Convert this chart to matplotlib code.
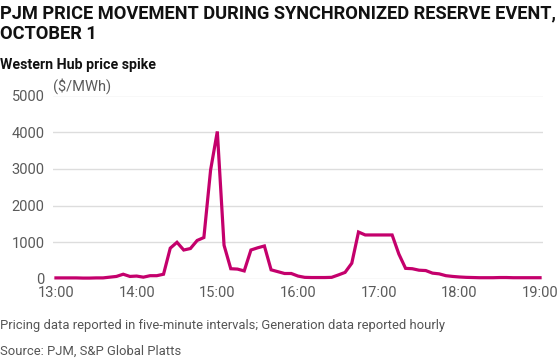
import matplotlib
matplotlib.use("Agg")
import matplotlib.pyplot as plt

title = "PJM PRICE MOVEMENT DURING SYNCHRONIZED RESERVE EVENT,\nOCTOBER 1"
subtitle = "Western Hub price spike"
unit = "($/MWh)"
note1 = "Pricing data reported in five-minute intervals; Generation data reported hourly"
note2 = "Source: PJM, S&P Global Platts"

# minutes after 13:00, 5-minute intervals
minutes = list(range(0, 361, 5))
price = [30, 30, 30, 30, 25, 25, 30, 30, 50, 70, 130, 70,
         80, 50, 90, 90, 130, 840, 1000, 790, 830, 1050, 1130, 2970,
         4020, 920, 280, 270, 220, 790, 850, 900, 250, 200, 150, 150,
         80, 45, 40, 40, 40, 45, 110, 180, 430, 1280, 1200, 1200,
         1200, 1200, 1200, 680, 290, 280, 240, 230, 160, 140, 90, 70,
         55, 45, 40, 35, 35, 35, 40, 40, 35, 35, 35, 35,
         35]
xtick_pos = [0, 60, 120, 180, 240, 300, 360]
xtick_labels = ["13:00", "14:00", "15:00", "16:00", "17:00", "18:00", "19:00"]
ytick_vals = [0, 1000, 2000, 3000, 4000, 5000]

plt.rcParams['font.family'] = ['Roboto', 'DejaVu Sans']

W, H = 560, 362
fig = plt.figure(figsize=(W / 100, H / 100), dpi=100)
left, right, top, bottom = 53, 543, 95.5, 279
ax = fig.add_axes([left / W, 1 - bottom / H, (right - left) / W, (bottom - top) / H])

ax.plot(minutes, price, color='#c4006c', lw=2.3, clip_on=False, solid_joinstyle='miter', zorder=3)
ax.set_xlim(-2.2, 362.2)
ax.set_ylim(0, 5000)
ax.set_yticks(ytick_vals)
ax.set_yticklabels([str(v) for v in ytick_vals])
ax.set_xticks(xtick_pos)
ax.set_xticklabels(xtick_labels)
ax.grid(axis='y', color='#dddddd', lw=1)
ax.set_axisbelow(True)
for s in ax.spines.values():
    s.set_visible(False)
ax.tick_params(axis='both', length=0, labelsize=10.5, colors='#5a5a5a')
ax.tick_params(axis='y', pad=6)
ax.tick_params(axis='x', pad=5)

fig.text(0, 1 - 4 / H, title, fontsize=13.15, fontweight='bold', color='#111111',
         va='top', ha='left', linespacing=1.2)
fig.text(0, 1 - 65 / H, subtitle, fontsize=10.2, fontweight='bold', color='#111111',
         va='center', ha='left')
fig.text(53 / W, 1 - 86 / H, unit, fontsize=10.5, color='#5a5a5a', va='center', ha='left')
fig.text(0, 1 - 326 / H, note1, fontsize=9.4, color='#555555', va='center', ha='left')
fig.text(0, 1 - 351 / H, note2, fontsize=9.4, color='#555555', va='center', ha='left')

fig.savefig("out.png", dpi=100)
